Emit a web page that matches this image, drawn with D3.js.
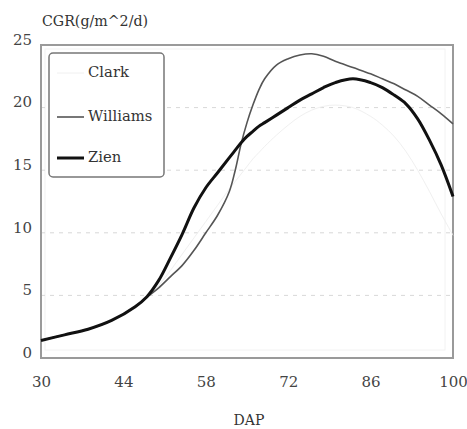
<!DOCTYPE html>
<html><head><meta charset="utf-8">
<script src="https://cdn.jsdelivr.net/npm/d3@7"></script>
<style>body{margin:0;background:#fff}svg{display:block}</style>
</head><body><svg id="c" width="467" height="429"></svg>
<script>
const seriesNames = ["Clark", "Williams", "Zien"];
const days = [30,34,38,42,46,48,50,52,54,56,58,60,62,63,64,65,66,67,68,70,72,74,76,78,80,83,86,88,90,92,94,96,98,100];
const clark    = [1.4,1.8,2.3,3.0,4.1,4.8,5.8,7.0,8.3,9.6,10.9,12.2,13.5,14.1,14.7,15.3,15.9,16.4,16.9,17.8,18.6,19.3,19.8,20.1,20.2,20.0,19.3,18.6,17.7,16.5,15.0,13.3,11.5,9.8];
const williams = [1.4,1.85,2.3,3.0,4.1,4.85,5.6,6.5,7.4,8.6,10.0,11.4,13.3,15.0,17.1,18.8,20.2,21.4,22.3,23.4,23.9,24.2,24.3,24.1,23.7,23.2,22.7,22.3,21.9,21.4,20.9,20.2,19.5,18.7];
const zien     = [1.4,1.85,2.3,3.0,4.1,4.9,6.2,8.0,9.9,12.0,13.6,14.8,16.0,16.6,17.2,17.7,18.1,18.5,18.8,19.4,20.0,20.6,21.1,21.6,22.0,22.3,22.0,21.6,21.0,20.3,19.1,17.4,15.4,12.9];
const xTicks = [30,44,58,72,86,100];
const yTicks = [0,5,10,15,20,25];
const gridY = [5,10,15,20];

const svg = d3.select("#c");
const L=41, R=453, T=45, B=358;
const x = d3.scaleLinear().domain([30,100]).range([L,R]);
const y = d3.scaleLinear().domain([0,25]).range([B,T]);
const serif = "DejaVu Serif";

svg.append("rect").attr("x",L+4).attr("y",T+4).attr("width",R-L-12).attr("height",B-T-12)
  .attr("fill","none").attr("stroke","#f2f2f2").attr("stroke-width",1);

svg.append("g").selectAll("line").data(gridY).join("line")
  .attr("x1",L).attr("x2",R).attr("y1",d=>y(d)).attr("y2",d=>y(d))
  .attr("stroke","#d8d8d8").attr("stroke-width",1).attr("stroke-dasharray","4,5");

svg.append("rect").attr("x",L).attr("y",T).attr("width",R-L).attr("height",B-T)
  .attr("fill","none").attr("stroke","#9a9a9a").attr("stroke-width",2);

const yAxis = d3.axisLeft(y).tickValues(yTicks).tickSize(0).tickPadding(9);
const gy = svg.append("g").attr("transform",`translate(${L},0)`).call(yAxis);
gy.attr("font-family",serif).attr("font-size",15);
gy.select(".domain").remove();
gy.selectAll("text").attr("fill","#444").attr("dy","-0.05em");

const xAxis = d3.axisBottom(x).tickValues(xTicks).tickSize(0).tickPadding(18);
const gx = svg.append("g").attr("transform",`translate(0,${B})`).call(xAxis);
gx.attr("font-family",serif).attr("font-size",15);
gx.select(".domain").remove();
gx.selectAll("text").attr("fill","#444");

svg.append("text").attr("x",42).attr("y",26).attr("font-family",serif).attr("font-size",14.2)
  .attr("fill","#333").text("CGR(g/m^2/d)");
svg.append("text").attr("x",249).attr("y",425).attr("text-anchor","middle").attr("font-family",serif)
  .attr("font-size",14).attr("fill","#333").text("DAP");

const styles = {Clark:{c:"#f0f0f0",w:1}, Williams:{c:"#555",w:1.6}, Zien:{c:"#111",w:3}};
const dataBy = {Clark:clark, Williams:williams, Zien:zien};
const line = d3.line().x(d=>x(d[0])).y(d=>y(d[1])).curve(d3.curveCatmullRom.alpha(0.5));
seriesNames.forEach(n=>{
  svg.append("path").datum(days.map((d,i)=>[d,dataBy[n][i]]))
    .attr("d",line).attr("fill","none").attr("stroke",styles[n].c).attr("stroke-width",styles[n].w)
    .attr("stroke-linejoin","round");
});

const lg = svg.append("g");
lg.append("rect").attr("x",49).attr("y",53).attr("width",115).attr("height",124).attr("rx",4)
  .attr("fill","#fff").attr("stroke","#777").attr("stroke-width",1.5);
const ly = [73,117,158];
seriesNames.forEach((n,i)=>{
  lg.append("line").attr("x1",57).attr("x2",84).attr("y1",ly[i]).attr("y2",ly[i])
    .attr("stroke",styles[n].c).attr("stroke-width",styles[n].w);
  lg.append("text").attr("x",88).attr("y",ly[i]+4).attr("font-family",serif).attr("font-size",14.8)
    .attr("fill","#333").text(n);
});
</script></body></html>
